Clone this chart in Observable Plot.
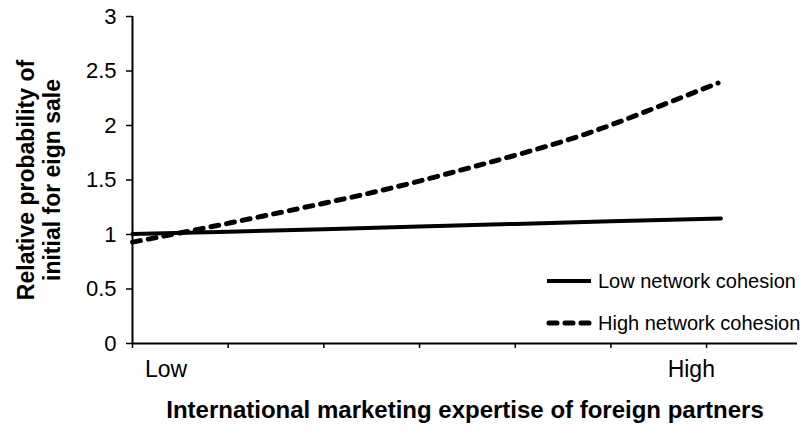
<!DOCTYPE html>
<html>
<head>
<meta charset="utf-8">
<script src="https://cdn.jsdelivr.net/npm/d3@7"></script>
<script src="https://cdn.jsdelivr.net/npm/@observablehq/plot@0.6"></script>
<style>
  html, body { margin: 0; padding: 0; background: white; }
  #wrap { position: relative; width: 802px; height: 432px; font-family: "Liberation Sans", Arial, sans-serif; }
  .leg { position: absolute; left: 546px; display: flex; align-items: center; font-size: 20px; color: #000; white-space: nowrap; }
  .leg svg { margin-right: 6px; }
</style>
</head>
<body>
<div id="wrap"></div>
<script>
// ---- data ----
const xTicks = [0, 1, 2, 3, 4, 5, 6];
const yTicks = [0, 0.5, 1, 1.5, 2, 2.5, 3];
const yTickLabels = ["0", "0.5", "1", "1.5", "2", "2.5", "3"];
const xLabels = ["Low", "High"];
const xLabelPos = [0.35, 5.84];

const seriesNames = ["Low network cohesion", "High network cohesion"];
const lowX = [0, 1, 2, 3, 4, 5, 6.15];
const lowY = [1.005, 1.026, 1.049, 1.074, 1.097, 1.121, 1.147];
const highX = [0, 0.68, 1.37, 2.07, 2.77, 3.43, 4.03, 4.72, 5.42, 6.12];
const highY = [0.93, 1.046, 1.17, 1.30, 1.44, 1.59, 1.734, 1.917, 2.147, 2.39];

const yTitle = "Relative probability of\ninitial for eign sale";
const xTitle = "International marketing expertise of foreign partners";

const lowData = lowX.map((x, i) => ({x, y: lowY[i]}));
const highData = highX.map((x, i) => ({x, y: highY[i]}));

const chart = Plot.plot({
  width: 802,
  height: 432,
  marginLeft: 132,
  marginRight: 5,
  marginTop: 16,
  marginBottom: 89,
  x: {domain: [0, 6.95]},
  y: {domain: [0, 3]},
  style: {fontFamily: "'Liberation Sans', Arial, sans-serif", background: "white", color: "black"},
  marks: [
    Plot.axisY({ticks: yTicks, tickFormat: d => yTickLabels[yTicks.indexOf(d)], tickSize: 6, tickPadding: 10, fontSize: 22, label: null, strokeWidth: 1.5}),
    Plot.axisX({ticks: xTicks, tickFormat: () => "", tickSize: 5, label: null, strokeWidth: 1.5}),
    Plot.axisX({ticks: xLabelPos, tickFormat: d => xLabels[xLabelPos.indexOf(d)], tickSize: 0, tickPadding: 17, fontSize: 23, label: null}),
    Plot.ruleY([0], {strokeWidth: 2}),
    Plot.ruleX([0], {strokeWidth: 2}),
    Plot.line(lowData, {x: "x", y: "y", stroke: "black", strokeWidth: 4}),
    Plot.line(highData, {x: "x", y: "y", stroke: "black", strokeWidth: 5, strokeDasharray: "8,8", strokeLinecap: "round", curve: "natural"}),
    Plot.text([yTitle], {text: d => d, frameAnchor: "left", rotate: -90, dx: -94, fontSize: 23, fontWeight: "bold", lineHeight: 1.13, textAnchor: "middle", lineAnchor: "middle"}),
    Plot.text([xTitle], {text: d => d, frameAnchor: "bottom", dy: 67, fontSize: 24, fontWeight: "bold", lineAnchor: "middle"})
  ]
});

const wrap = document.getElementById("wrap");
wrap.appendChild(chart);

// legend
const legTop = [281, 323];
const dashes = [null, "8,8"];
const widths = [4, 5];
seriesNames.forEach((name, i) => {
  const div = document.createElement("div");
  div.className = "leg";
  div.style.top = (legTop[i] - 12) + "px";
  div.style.height = "24px";
  div.innerHTML = `<svg width="46" height="10"><line x1="${i ? 3 : 1}" x2="${i ? 43 : 45}" y1="5" y2="5" stroke="black" stroke-width="${widths[i]}" ${dashes[i] ? `stroke-dasharray="${dashes[i]}" stroke-linecap="round"` : ""}/></svg><span>${name}</span>`;
  wrap.appendChild(div);
});
</script>
</body>
</html>
